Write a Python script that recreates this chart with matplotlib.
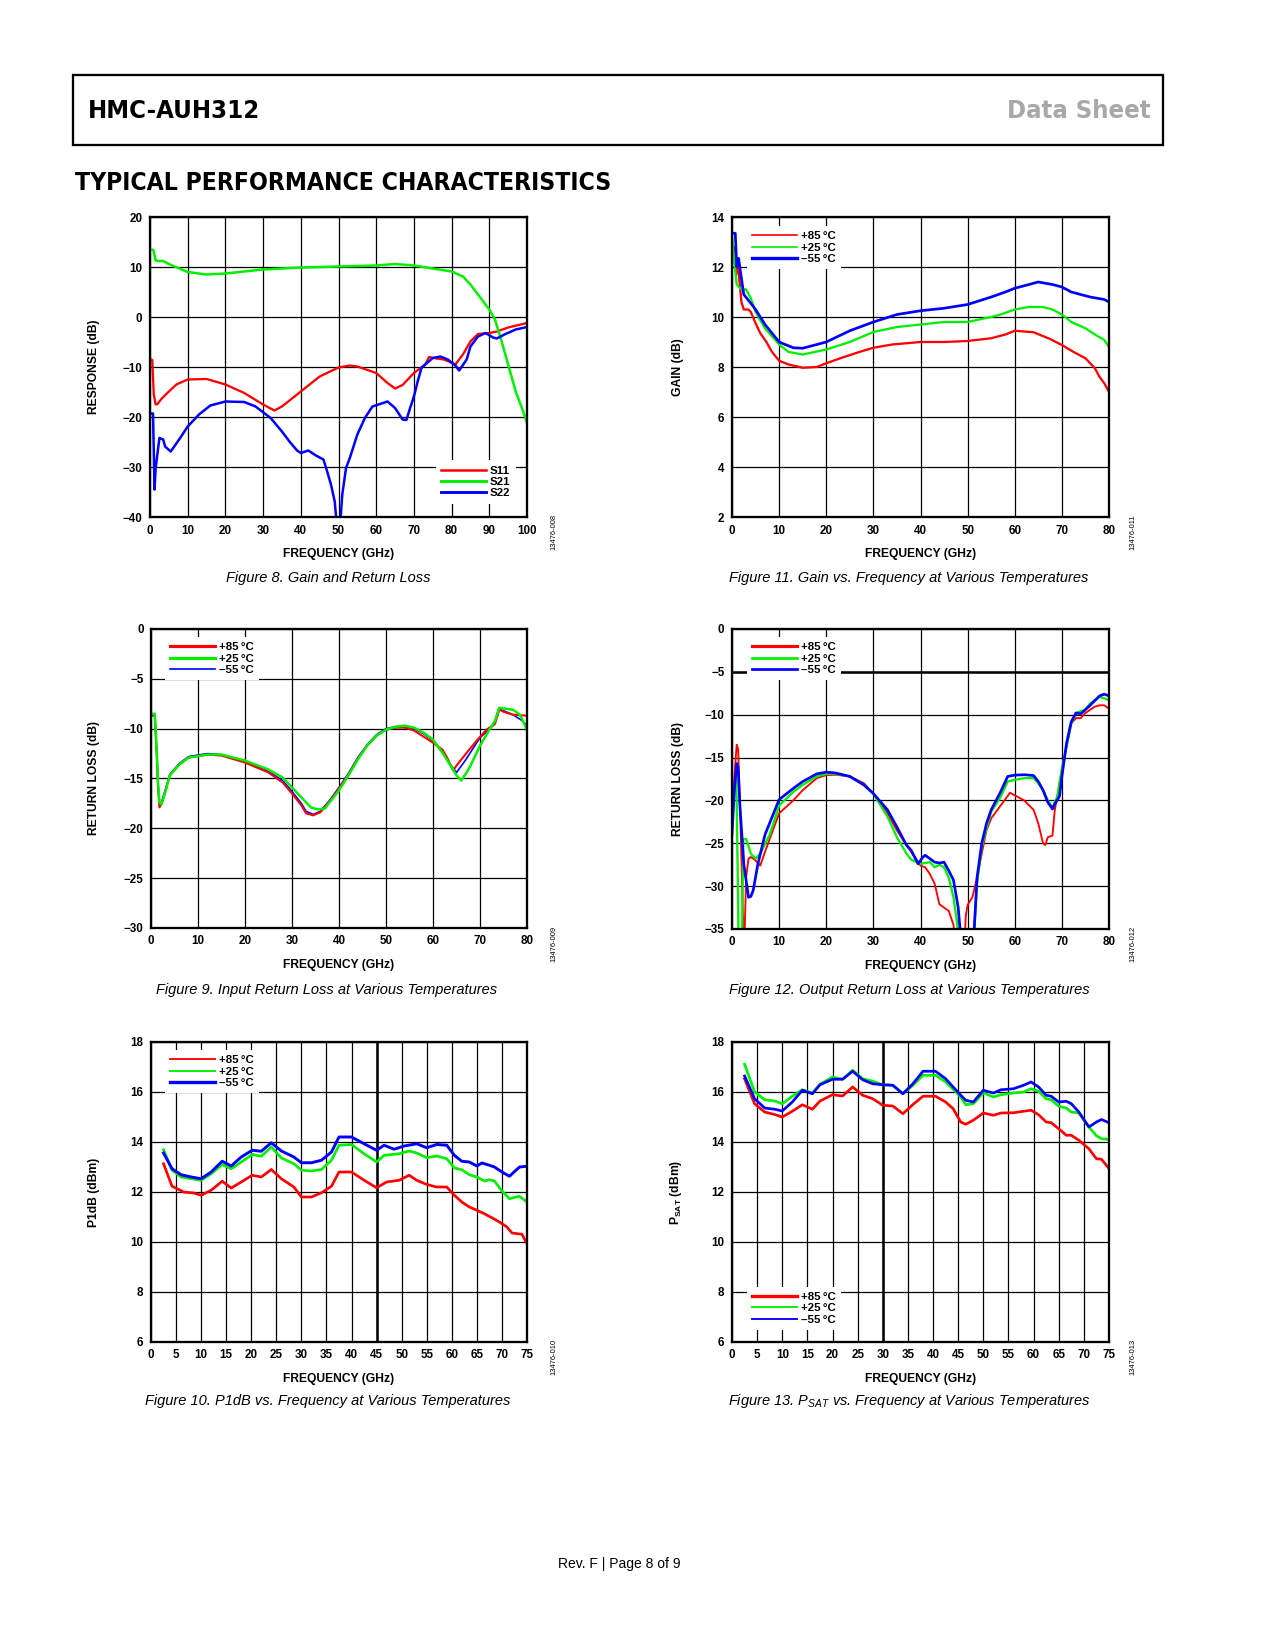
import numpy as np
import matplotlib
matplotlib.use('Agg')
import matplotlib.pyplot as plt
from matplotlib.lines import Line2D
from matplotlib.patches import Rectangle
from matplotlib import font_manager

W, H = 1275, 1650
DPI = 150

RED = '#ff0000'
GREEN = '#00f000'
BLUE = '#0000ff'
TEMPS = ['+85\u2009°C', '+25\u2009°C', '\u201355\u2009°C']

# ---- Figure 8: gain and return loss (S11, S21, S22) ----
F8_S11_X = [0.3, 0.6, 1.0, 1.5, 2, 3, 5, 7, 10, 15, 20, 25, 30, 33, 35, 40, 45, 50, 53, 55,
            60, 63, 65, 67, 70, 73, 74, 76, 78, 81, 83, 85, 87, 90, 92, 95, 100]
F8_S11_Y = [-8.5, -8.6, -15.5, -17.5, -17.4, -16.4, -14.9, -13.5, -12.5, -12.4, -13.5, -15.2, -17.5,
            -18.7, -17.9, -14.9, -11.9, -10.1, -9.7, -9.9, -11.2, -13.2, -14.3, -13.6, -11.2, -9.5,
            -8.0, -8.3, -8.5, -9.5, -7.5, -4.9, -3.4, -3.2, -2.9, -2.1, -1.2]
F8_S21_X = [0.3, 0.9, 1.5, 2.5, 3.5, 5, 10, 15, 20, 30, 40, 50, 60, 65, 70, 75, 80, 83, 85, 86,
            88, 90, 91.5, 93, 95, 97, 99, 100]
F8_S21_Y = [13.5, 13.4, 11.3, 11.2, 11.2, 10.6, 9.0, 8.5, 8.7, 9.5, 9.9, 10.1, 10.3, 10.6, 10.3,
            9.7, 9.1, 8.1, 6.5, 5.5, 3.5, 1.5, -0.5, -4.2, -9.5, -14.9, -18.9, -21.2]
F8_S22_X = [0.3, 0.8, 1.2, 1.5, 2.5, 3.5, 4, 5.5, 8, 10, 13, 16, 20, 25, 28, 32, 35, 37, 39, 40,
            42, 44, 46, 47, 48, 49, 49.6, 50.4, 51, 52, 53, 55, 57, 59, 61, 63, 65, 67, 68, 69,
            70, 71, 72, 73, 75, 77, 79, 81, 82, 84, 85, 87, 89, 91, 92, 94, 97, 100]
F8_S22_Y = [-19.3, -19.3, -34.5, -30.2, -24.2, -24.5, -25.9, -26.9, -24.2, -21.9, -19.5, -17.7,
            -16.9, -17.0, -17.9, -20.2, -22.9, -24.9, -26.7, -27.2, -26.7, -27.7, -28.5, -30.9,
            -33.5, -36.9, -42, -42, -35.5, -30.2, -28.2, -23.5, -20.2, -17.9, -17.4, -16.9, -18.2,
            -20.5, -20.6, -18.2, -15.9, -12.9, -10.2, -9.5, -8.2, -7.9, -8.5, -9.7, -10.7, -8.5,
            -5.9, -3.9, -3.2, -4.1, -4.3, -3.5, -2.5, -2.0]

# ---- Figure 11: gain vs frequency ----
F11_X_R = [0, 0.5, 0.9, 1.2, 1.5, 2, 2.5, 3.5, 4, 5, 6, 7.3, 8.5, 10, 12, 15, 18, 20, 23, 27,
           30, 34, 40, 45, 50, 55, 58, 60, 64, 67.5, 70, 72.5, 75, 77, 78, 79, 80]
F11_Y_R = [12.8, 12.8, 11.7, 12.3, 11.6, 10.6, 10.3, 10.3, 10.2, 9.75, 9.35, 9.0, 8.6, 8.25, 8.1,
           7.97, 8.0, 8.15, 8.35, 8.6, 8.77, 8.9, 9.0, 9.0, 9.04, 9.15, 9.3, 9.45, 9.39, 9.12,
           8.88, 8.6, 8.35, 7.95, 7.6, 7.35, 7.0]
F11_X_G = [0, 0.5, 1, 2, 3, 4, 5, 7, 10, 12, 15, 20, 25, 30, 35, 40, 45, 50, 55, 57, 60, 63, 66,
           68, 70, 72, 75, 77, 79, 80]
F11_Y_G = [13.3, 12.2, 11.3, 11.1, 11.1, 10.75, 10.2, 9.55, 8.9, 8.6, 8.5, 8.7, 9.0, 9.4, 9.6,
           9.7, 9.8, 9.8, 10.0, 10.1, 10.3, 10.4, 10.4, 10.3, 10.1, 9.8, 9.55, 9.3, 9.08, 8.8]
F11_X_B = [0, 0.7, 1, 1.4, 1.8, 2.5, 4, 5, 7, 10, 13, 15, 20, 25, 30, 35, 40, 45, 50, 55, 58, 60,
           63, 65, 68, 70, 72, 74, 76, 79, 80]
F11_Y_B = [13.35, 13.35, 12.0, 12.35, 11.8, 10.9, 10.55, 10.3, 9.7, 9.0, 8.77, 8.75, 9.0, 9.45,
           9.8, 10.1, 10.25, 10.35, 10.5, 10.8, 11.0, 11.15, 11.3, 11.4, 11.3, 11.2, 11.0, 10.9,
           10.8, 10.7, 10.6]

# ---- Figure 9: input return loss ----
F9_X_R = [0, 0.8, 1.2, 1.5, 1.8, 2.2, 3, 4, 6, 8, 12, 15, 20, 25, 28, 30, 32, 33, 34.5, 36, 38,
          40, 42, 44, 46, 48, 50, 52, 54, 56, 58, 60, 62, 63, 64.3, 65, 67.2, 69.3, 71.4, 73.2,
          74.1, 75, 77, 80]
F9_Y_R = [-8.6, -8.6, -12.3, -15.8, -17.9, -17.6, -16.4, -14.7, -13.6, -12.9, -12.6, -12.7, -13.4,
          -14.4, -15.4, -16.5, -17.7, -18.5, -18.7, -18.4, -17.3, -16.0, -14.6, -13.0, -11.7,
          -10.7, -10.1, -9.9, -9.9, -10.2, -10.8, -11.4, -12.1, -12.9, -14.2, -13.7, -12.4,
          -11.2, -10.1, -9.5, -8.1, -8.3, -8.6, -8.7]
F9_X_G = [0, 0.8, 1.2, 1.5, 1.8, 2.2, 3, 4, 6, 8, 12, 15, 20, 25, 28, 30, 32, 34, 35.5, 37, 38,
          40, 42, 44, 46, 48, 50, 52, 54, 56, 58, 60, 62, 64, 65, 66, 67, 68, 69, 70, 72, 73.2,
          74.1, 77, 78.5, 80]
F9_Y_G = [-8.5, -8.5, -12.1, -15.4, -17.4, -17.6, -16.4, -14.7, -13.6, -12.9, -12.6, -12.6, -13.2,
          -14.1, -14.9, -15.9, -16.9, -17.9, -18.1, -18.0, -17.4, -16.2, -14.7, -13.1, -11.7,
          -10.7, -10.1, -9.8, -9.7, -9.9, -10.4, -11.1, -12.4, -13.9, -14.7, -15.2, -14.5,
          -13.7, -12.7, -11.7, -10.1, -9.2, -7.9, -8.1, -8.6, -10.1]
F9_X_B = [0, 0.8, 1.2, 1.5, 1.8, 2.2, 3, 4, 6, 8, 12, 15, 20, 25, 28, 30, 32, 33, 34.5, 36, 38,
          40, 42, 44, 46, 48, 50, 52, 54, 56, 58, 60, 62, 63.5, 65, 67, 70, 73, 74, 77, 79, 80]
F9_Y_B = [-8.7, -8.7, -12.2, -15.6, -17.6, -17.4, -16.2, -14.6, -13.5, -12.8, -12.5, -12.6, -13.3,
          -14.3, -15.2, -16.3, -17.5, -18.3, -18.6, -18.3, -17.2, -15.9, -14.5, -12.9, -11.6,
          -10.6, -10.0, -9.8, -9.8, -10.0, -10.5, -11.2, -12.3, -13.5, -14.4, -13.1, -10.9,
          -9.6, -8.0, -8.6, -9.2, -9.7]

# ---- Figure 12: output return loss ----
F12_X_R = [0, 0.5, 1.0, 1.3, 1.8, 2.3, 2.6, 3.0, 3.5, 4, 5, 6, 7, 10, 13, 15, 18, 20, 22, 25,
           28, 30, 33, 35, 37, 39, 40, 41, 42, 43, 44, 45, 46, 47, 47.4, 49.3, 49.6, 50, 51, 52,
           53, 54, 55, 57, 59, 60, 62, 64, 65, 66, 66.5, 67, 68, 68.5, 69, 70, 71, 72, 73, 74,
           75, 77, 78, 79, 80]
F12_Y_R = [-22.7, -17.2, -13.5, -14.0, -22.7, -33, -37, -29, -26.8, -26.6, -27.0, -27.6, -26.0,
           -21.5, -20.0, -18.8, -17.4, -17.05, -17.0, -17.2, -18.0, -19.2, -21.5, -23.5, -25.2,
           -26.8, -27.6, -27.8, -28.6, -29.7, -32.1, -32.5, -32.9, -34.5, -37, -37, -33.5, -32.2,
           -31.3, -29.0, -26.2, -23.5, -22.1, -20.6, -19.1, -19.4, -20.0, -21.1, -22.7, -25.0,
           -25.2, -24.3, -24.1, -21.1, -19.6, -16.5, -13.7, -11.0, -10.4, -10.4, -9.8, -9.05,
           -8.9, -8.9, -9.3]
F12_X_G = [0, 0.5, 0.9, 1.2, 1.4, 2.1, 2.4, 3, 4, 5, 6, 8, 10, 13, 15, 18, 20, 22, 25, 28, 30,
           33, 35, 37, 38, 40, 42, 43, 44, 45, 46, 47, 47.7, 48.2, 51.2, 52, 53, 54, 55, 57, 58.5,
           60, 62, 64, 65, 66, 67, 68, 69, 70, 71, 72, 73, 75, 76, 78, 80]
F12_Y_G = [-22.0, -18.5, -17.0, -28.0, -37, -37, -24.5, -24.5, -26.2, -26.8, -26.2, -24.0, -20.6,
           -19.0, -18.2, -17.2, -16.9, -16.9, -17.2, -18.2, -19.2, -21.9, -24.3, -26.2, -26.9,
           -27.4, -27.2, -27.8, -27.5, -27.8, -29.0, -31.3, -34.0, -37, -37, -29.7, -25.4, -23.3,
           -21.3, -19.6, -17.8, -17.6, -17.4, -17.4, -18.0, -18.8, -20.0, -20.8, -19.6, -16.3,
           -13.7, -11.0, -9.8, -9.4, -8.7, -7.9, -8.3]
F12_X_B = [0, 0.5, 1.0, 1.3, 1.7, 2.5, 3.5, 4, 4.5, 5.5, 7, 10, 13, 15, 18, 20, 22, 25, 28, 30,
           33, 35, 37, 38, 39.5, 40.5, 41, 43, 44, 45, 46, 47, 48, 48.7, 51.2, 52, 53, 54, 55, 57,
           58.5, 60, 62, 64, 65, 66, 67, 68, 68.5, 69.5, 70, 71, 72, 73, 74, 76, 78, 79, 80]
F12_Y_B = [-23.9, -18.8, -15.7, -16.1, -20.8, -27.4, -31.3, -31.2, -30.5, -27.4, -24.0, -19.9,
           -18.6, -17.8, -16.9, -16.7, -16.8, -17.2, -18.2, -19.2, -21.1, -23.1, -25.2, -25.8,
           -27.4, -26.6, -26.4, -27.2, -27.3, -27.2, -28.2, -29.3, -32.5, -37, -37, -29.0, -25.0,
           -22.7, -21.1, -19.0, -17.2, -17.05, -17.0, -17.1, -17.8, -18.8, -20.2, -21.0, -20.4,
           -19.5, -17.2, -13.3, -10.8, -9.8, -9.9, -8.9, -7.8, -7.6, -7.8]

# ---- Figure 10: P1dB ----
F10_X_R = [2.5, 4.2, 6.5, 8.5, 10, 12, 14.2, 16, 18, 20.2, 22, 24, 26, 28.5, 30, 32, 34, 36, 37.5,
           40, 42.5, 45, 47, 49.5, 51.5, 53, 55, 57, 59, 60.5, 62, 63.5, 65, 66.5, 68, 69.5, 71,
           72, 74, 75]
F10_Y_R = [13.13, 12.23, 12.0, 11.96, 11.87, 12.07, 12.43, 12.16, 12.4, 12.67, 12.6, 12.9, 12.53,
           12.2, 11.8, 11.8, 11.97, 12.23, 12.8, 12.8, 12.47, 12.17, 12.4, 12.47, 12.67, 12.47,
           12.3, 12.2, 12.2, 11.87, 11.6, 11.4, 11.27, 11.13, 10.97, 10.8, 10.6, 10.36, 10.31, 9.93]
F10_X_G = [2.5, 4.2, 6, 8, 10, 12, 14.2, 16, 18, 20.2, 22, 24, 26, 28.5, 30, 32, 34, 36, 37.5, 40,
           42.5, 45, 46.5, 49.5, 51.5, 53, 55, 57, 59, 60.5, 62, 63.5, 65, 66.5, 67.5, 68.5, 70,
           71.5, 73.5, 75]
F10_Y_G = [13.69, 12.87, 12.6, 12.53, 12.47, 12.73, 13.1, 12.93, 13.2, 13.5, 13.43, 13.8, 13.36,
           13.13, 12.87, 12.84, 12.9, 13.27, 13.87, 13.9, 13.53, 13.2, 13.47, 13.53, 13.64, 13.56,
           13.37, 13.44, 13.33, 12.96, 12.89, 12.69, 12.6, 12.44, 12.49, 12.44, 12.04, 11.73,
           11.83, 11.6]
F10_X_B = [2.5, 4.2, 6, 8, 10, 12, 14.2, 16, 18, 20.2, 22, 24, 26, 28.5, 30, 32, 34, 36, 37.5, 40,
           42.5, 45, 46.5, 48.5, 50.5, 53, 55, 57, 59, 60.5, 62, 63.5, 65, 66, 67.5, 68.5, 70,
           71.5, 73.5, 75]
F10_Y_B = [13.56, 12.93, 12.69, 12.6, 12.53, 12.8, 13.23, 13.04, 13.4, 13.67, 13.63, 13.97, 13.64,
           13.4, 13.17, 13.17, 13.27, 13.6, 14.2, 14.2, 13.93, 13.67, 13.87, 13.71, 13.84, 13.93,
           13.77, 13.9, 13.87, 13.47, 13.23, 13.2, 13.04, 13.16, 13.07, 13.0, 12.8, 12.63, 13.0,
           13.03]

# ---- Figure 13: PSAT ----
F13_X = [2.5, 4.5, 6.5, 8.5, 10, 12, 14, 16, 17.5, 20, 22, 24, 26, 28, 30, 32, 34, 36, 38, 40.5,
         42.5, 44, 45.5, 46.5, 48, 50, 52, 53.5, 56, 58, 59.5, 61, 62.5, 63.5, 65, 66.5, 67.5, 69,
         71, 72.5, 73.5, 75]
F13_Y_R = [16.53, 15.53, 15.2, 15.1, 15.0, 15.23, 15.49, 15.31, 15.64, 15.89, 15.84, 16.2, 15.87,
           15.73, 15.47, 15.44, 15.13, 15.5, 15.83, 15.83, 15.6, 15.33, 14.8, 14.71, 14.87, 15.16,
           15.07, 15.16, 15.17, 15.23, 15.27, 15.09, 14.8, 14.77, 14.53, 14.27, 14.27, 14.07,
           13.73, 13.33, 13.31, 12.94]
F13_Y_G = [17.11, 16.0, 15.69, 15.64, 15.53, 15.83, 16.09, 15.96, 16.31, 16.6, 16.51, 16.87, 16.53,
           16.43, 16.29, 16.27, 15.93, 16.27, 16.67, 16.67, 16.4, 16.11, 15.8, 15.49, 15.53, 15.97,
           15.8, 15.89, 15.96, 16.0, 16.13, 16.03, 15.73, 15.69, 15.43, 15.36, 15.2, 15.16, 14.6,
           14.25, 14.13, 14.1]
F13_Y_B = [16.64, 15.73, 15.36, 15.31, 15.24, 15.6, 16.07, 15.93, 16.29, 16.51, 16.51, 16.83, 16.49,
           16.33, 16.29, 16.27, 15.93, 16.33, 16.83, 16.83, 16.53, 16.2, 15.87, 15.67, 15.6, 16.07,
           15.96, 16.09, 16.13, 16.27, 16.4, 16.2, 15.87, 15.83, 15.6, 15.63, 15.53, 15.2, 14.6,
           14.8, 14.9, 14.77]


# pick a condensed family for the headings if one is installed
_fonts = font_manager.fontManager.ttflist
_names = {f.name for f in _fonts}
_cond = [f.name for f in _fonts if f.stretch in ('condensed', 'semi-condensed', 'extra-condensed', 'ultra-condensed')
         or (isinstance(f.stretch, int) and f.stretch < 500)]
if 'Liberation Sans Narrow' in _names:
    HEAD_FONT, HEAD_STRETCH, HEAD_SCALE = 'Liberation Sans Narrow', 'normal', 1.0
elif _cond:
    pref = [n for n in ('DejaVu Sans', 'Noto Sans', 'Open Sans', 'Roboto') if n in _cond]
    HEAD_FONT, HEAD_STRETCH, HEAD_SCALE = (pref[0] if pref else _cond[0]), 'condensed', 0.79
else:
    HEAD_FONT, HEAD_STRETCH, HEAD_SCALE = 'Liberation Sans', 'normal', 0.74

SANS = ['Liberation Sans', 'DejaVu Sans']
plt.rcParams['font.family'] = SANS
plt.rcParams['mathtext.default'] = 'regular'


def px_axes(fig, x0, y0, x1, y1):
    """Place an axes from page pixel coordinates (top-left origin)"""
    return fig.add_axes([x0 / W, 1 - y1 / H, (x1 - x0) / W, (y1 - y0) / H])


def fmt(v):
    return str(v).replace('-', '\u2212')


def style_axes(ax, xticks, yticks, ylabel, ylab_x):
    ax.set_xlim(xticks[0], xticks[-1])
    ax.set_ylim(yticks[0], yticks[-1])
    ax.set_xticks(xticks, labels=[fmt(t) for t in xticks], fontweight='bold', fontsize=5.6)
    ax.set_yticks(yticks, labels=[fmt(t) for t in yticks], fontweight='bold', fontsize=5.6)
    ax.tick_params(length=0, pad=3.6)
    ax.grid(True, color='black', linewidth=0.6)
    ax.set_axisbelow(True)
    for s in ax.spines.values():
        s.set_linewidth(1.1)
    ax.set_xlabel('FREQUENCY (GHz)', fontweight='bold', fontsize=5.8)
    ax.xaxis.set_label_coords(0.5, -0.103)
    ax.set_ylabel(ylabel, fontweight='bold', fontsize=5.8)
    ax.yaxis.set_label_coords(ylab_x, 0.5)


def add_legend(ax, labels, widths, loc, anchor):
    handles = [Line2D([], [], color=c, lw=w) for c, w in zip([RED, GREEN, BLUE], widths)]
    leg = ax.legend(handles, labels, loc=loc, bbox_to_anchor=anchor, frameon=True,
                    fancybox=False, framealpha=1, facecolor='white', edgecolor='none',
                    handlelength=3.9, handletextpad=0.35, labelspacing=0.12, borderpad=0.45,
                    borderaxespad=0, prop={'weight': 'bold', 'size': 5.5})
    leg.get_frame().set_linewidth(0)
    return leg


def caption(fig, x, y, text):
    fig.text(x / W, 1 - y / H, text, ha='center', va='center', style='italic',
             family=SANS, fontsize=7.0)


def side_id(fig, x, y, text):
    fig.text(x / W, 1 - y / H, text, ha='center', va='center', rotation=90, fontsize=3.6)


def heading(fig, x, y, text, size, **kw):
    fig.text(x / W, 1 - y / H, text, va='center', fontweight='bold', family=HEAD_FONT,
             fontstretch=HEAD_STRETCH, fontsize=size * HEAD_SCALE, **kw)


def main():
    fig = plt.figure(figsize=(W / DPI, H / DPI), dpi=DPI)

    # header
    fig.add_artist(Rectangle((73 / W, 1 - 145 / H), (1163 - 73) / W, 70 / H,
                             transform=fig.transFigure, fill=False, lw=1.1, color='black'))
    heading(fig, 88, 111, 'HMC-AUH312', 15.5, ha='left')
    heading(fig, 1151, 111, 'Data Sheet', 15.5, ha='right', color='#a8a8a8')
    heading(fig, 75, 183, 'TYPICAL PERFORMANCE CHARACTERISTICS', 15.0, ha='left')

    xt100 = list(range(0, 101, 10))
    xt80 = list(range(0, 81, 10))
    xt75 = list(range(0, 76, 5))

    # Figure 8
    ax = px_axes(fig, 150, 217, 527, 517)
    style_axes(ax, xt100, list(range(-40, 21, 10)), 'RESPONSE (dB)', -0.133)
    ax.plot(F8_S11_X, F8_S11_Y, color=RED, lw=1.1)
    ax.plot(F8_S21_X, F8_S21_Y, color=GREEN, lw=1.2)
    ax.plot(F8_S22_X, F8_S22_Y, color=BLUE, lw=1.2)
    add_legend(ax, ['S11', 'S21', 'S22'], [1.2, 1.4, 1.4], 'lower right', (0.97, 0.045))

    # Figure 11
    ax = px_axes(fig, 732, 217, 1109, 517)
    style_axes(ax, xt80, list(range(2, 15, 2)), 'GAIN (dB)', -0.127)
    ax.plot(F11_X_R, F11_Y_R, color=RED, lw=1.1)
    ax.plot(F11_X_G, F11_Y_G, color=GREEN, lw=1.1)
    ax.plot(F11_X_B, F11_Y_B, color=BLUE, lw=1.3)
    add_legend(ax, TEMPS, [0.8, 0.8, 1.6], 'upper left', (0.04, 0.97))

    # Figure 9
    ax = px_axes(fig, 151, 629, 527, 928)
    style_axes(ax, xt80, list(range(-30, 1, 5)), 'RETURN LOSS (dB)', -0.136)
    ax.plot(F9_X_B, F9_Y_B, color=BLUE, lw=0.8)
    ax.plot(F9_X_R, F9_Y_R, color=RED, lw=1.0)
    ax.plot(F9_X_G, F9_Y_G, color=GREEN, lw=1.2)
    add_legend(ax, TEMPS, [1.5, 1.5, 0.8], 'upper left', (0.037, 0.973))

    # Figure 12
    ax = px_axes(fig, 732, 629, 1109, 929)
    style_axes(ax, xt80, list(range(-35, 1, 5)), 'RETURN LOSS (dB)', -0.127)
    ax.axhline(-5, color='black', lw=1.2, zorder=1.5)
    ax.plot(F12_X_R, F12_Y_R, color=RED, lw=0.9)
    ax.plot(F12_X_G, F12_Y_G, color=GREEN, lw=1.1)
    ax.plot(F12_X_B, F12_Y_B, color=BLUE, lw=1.3)
    add_legend(ax, TEMPS, [1.5, 1.3, 1.3], 'upper left', (0.04, 0.973))

    # Figure 10
    ax = px_axes(fig, 151, 1042, 527, 1342)
    style_axes(ax, xt75, list(range(6, 19, 2)), 'P1dB (dBm)', -0.136)
    ax.axvline(45, color='black', lw=1.2, zorder=1.5)
    ax.plot(F10_X_R, F10_Y_R, color=RED, lw=1.3)
    ax.plot(F10_X_G, F10_Y_G, color=GREEN, lw=1.3)
    ax.plot(F10_X_B, F10_Y_B, color=BLUE, lw=1.4)
    add_legend(ax, TEMPS, [0.9, 0.9, 1.6], 'upper left', (0.037, 0.973))

    # Figure 13
    ax = px_axes(fig, 732, 1042, 1109, 1342)
    style_axes(ax, xt75, list(range(6, 19, 2)), 'P$_{SAT}$ (dBm)', -0.127)
    ax.axvline(30, color='black', lw=1.2, zorder=1.5)
    ax.plot(F13_X, F13_Y_R, color=RED, lw=1.3)
    ax.plot(F13_X, F13_Y_G, color=GREEN, lw=1.3)
    ax.plot(F13_X, F13_Y_B, color=BLUE, lw=1.3)
    add_legend(ax, TEMPS, [1.6, 0.9, 0.9], 'lower left', (0.04, 0.04))

    # captions and ids
    caption(fig, 328, 578, 'Figure 8. Gain and Return Loss')
    caption(fig, 909, 578, 'Figure 11. Gain vs. Frequency at Various Temperatures')
    caption(fig, 327, 990, 'Figure 9. Input Return Loss at Various Temperatures')
    caption(fig, 909, 990, 'Figure 12. Output Return Loss at Various Temperatures')
    caption(fig, 328, 1401, 'Figure 10. P1dB vs. Frequency at Various Temperatures')
    caption(fig, 909, 1401, 'Figure 13. P$_{SAT}$ vs. Frequency at Various Temperatures')
    side_id(fig, 554, 532, '13476-008')
    side_id(fig, 1133, 532, '13476-011')
    side_id(fig, 554, 944, '13476-009')
    side_id(fig, 1133, 944, '13476-012')
    side_id(fig, 554, 1357, '13476-010')
    side_id(fig, 1133, 1357, '13476-013')

    fig.text(619 / W, 1 - 1564 / H, 'Rev. F | Page 8 of 9', ha='center', va='center',
             family=SANS, fontsize=6.7)

    fig.savefig('out.png', dpi=DPI)


if __name__ == '__main__':
    main()
